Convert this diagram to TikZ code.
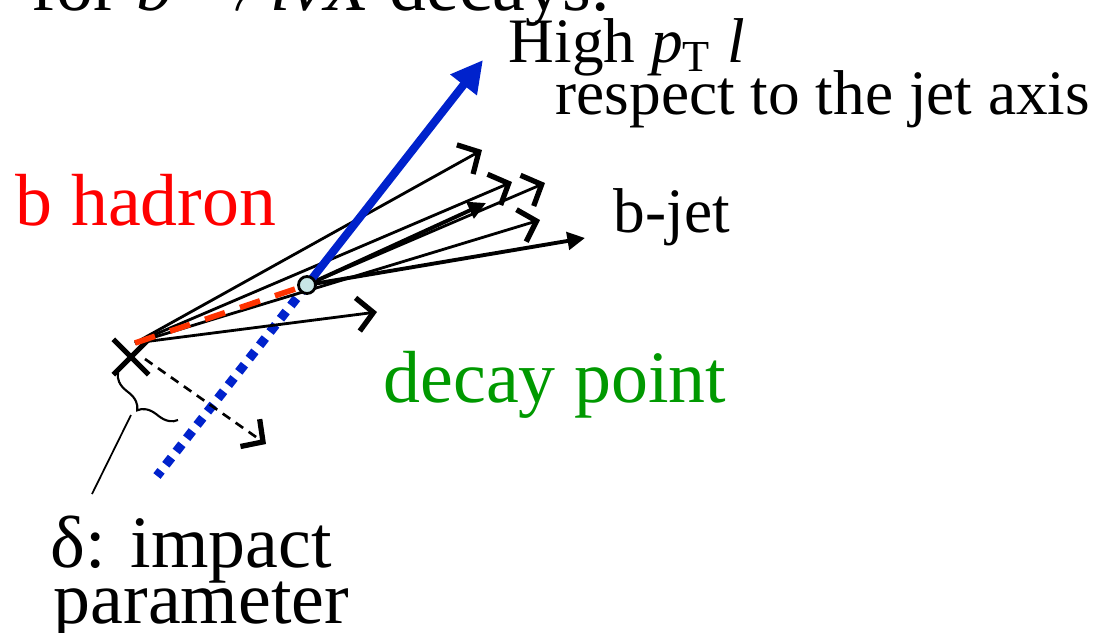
\documentclass[tikz,border=0pt]{standalone}
\usepackage{fontspec}
\setmainfont{Liberation Serif}
\usetikzlibrary{arrows.meta,decorations.pathreplacing,shapes.misc}
\definecolor{hadred}{RGB}{255,0,0}
\definecolor{flightred}{RGB}{255,51,0}
\definecolor{lepblue}{RGB}{0,34,204}
\definecolor{dkgreen}{RGB}{0,153,0}
\definecolor{svfill}{RGB}{200,230,230}

\begin{document}
\begin{tikzpicture}[
    x=0.01cm, y=-0.01cm,
    big/.style={anchor=base west, inner sep=0pt, font=\fontsize{21pt}{25pt}\selectfont},
    med/.style={anchor=base west, inner sep=0pt, font=\fontsize{18pt}{22pt}\selectfont},
    barb/.style={-{Straight Barb[length=4.5pt, width=9.5pt, line width=1.5pt]}},
    trk/.style={line width=0.8pt, barb},
    jettrk/.style={line width=1.1pt, -{Triangle[length=5pt, width=5pt]}},
    lep/.style={draw=lepblue, line width=2.3pt, -{Triangle[length=9pt, width=9pt]}},
    flight/.style={draw=flightred, line width=1.6pt, dash pattern=on 6pt off 4.5pt},
    ipline/.style={draw=lepblue, line width=2.6pt, dash pattern=on 2.6pt off 2.2pt},
    vtx/.style={circle, draw, fill=svfill, line width=0.8pt, minimum size=0.17cm, inner sep=0pt}
  ]
    \useasboundingbox (0,0) rectangle (1102,633);

    % vertices
    \node[cross out, draw, line width=1.5pt, minimum size=0.3cm, inner sep=0pt] (pv) at (131,357) {};
    \coordinate (orig) at (135,343);
    \coordinate (sv) at (307,285);

    % track ends
    \coordinate (t1) at (482,150);
    \coordinate (t2) at (512,182);
    \coordinate (t3) at (540,220);
    \coordinate (t4) at (377,312);
    \coordinate (j1) at (486,203);
    \coordinate (j2) at (545,183);
    \coordinate (j3) at (585,238);
    \coordinate (lepend) at (483,60);
    \coordinate (ipend) at (157,476);
    \coordinate (dend) at (266,444);

    % impact parameter
    \draw[ipline] (sv) -- (ipend);
    \draw[line width=0.75pt, dash pattern=on 2.6pt off 1.9pt, barb] (pv.center) ++(14,2) -- (dend);

    % tracks from primary vertex
    \foreach \e in {t1,t2,t3,t4}
      \draw[trk] (orig) -- (\e);
    \draw[flight] (orig) -- (sv);

    % tracks from decay point
    \draw[jettrk] (sv) -- (j1);
    \draw[trk] (sv) -- (j2);
    \draw[jettrk] (sv) -- (j3);
    \draw[lep] (sv) -- (lepend);
    \node[vtx] (dp) at (sv) {};

    % brace and pointer
    \draw[line width=0.6pt, decorate, decoration={brace, amplitude=5pt}] (178,420) -- (118,373);
    \coordinate (btip) at (131,415);
    \coordinate (ptr) at (92,494);
    \draw[line width=0.5pt] (btip) -- (ptr);

    % labels
    \node[big] (title) at (31,10) {for \textit{b}\,$\rightarrow$\,\textit{l}\textit{ν}\textit{X} decays:};
    \node[med] (high) at (508,62) {High \textit{p}\textsubscript{T} \textit{l}};
    \node[med] (resp) at (555,114) {respect to the jet axis};
    \node[big, text=hadred] (had) at (15,225) {b hadron};
    \node[med] (bjet) at (613,232) {b-jet};
    \node[big, text=dkgreen] (decay) at (383,402) {decay point};
    \node[big] (delta) at (50,567) {δ: impact};
    \node[big] (param) at (53,623) {parameter};
\end{tikzpicture}
\end{document}
